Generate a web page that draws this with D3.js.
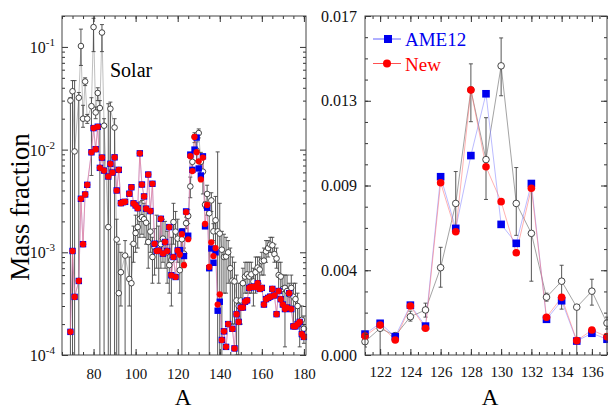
<!DOCTYPE html>
<html>
<head>
<meta charset="utf-8">
<script src="https://cdn.jsdelivr.net/npm/d3@7"></script>
<style>
    body { margin: 0; background: #fff; }
    text { font-family: "Liberation Serif", "Times New Roman", serif; }
</style>
</head>
<body>
<svg id="chart" width="608" height="410"></svg>
<script>
// mass numbers of the calculated abundances (AME12 and New)
var massA = [
    69, 70, 71, 73, 74, 75, 76, 77, 79, 80,
    81, 82, 83, 84, 85, 87, 88, 89, 90, 91,
    92, 93, 94, 95, 97, 98, 99, 100, 101, 102,
    103, 104, 105, 106, 107, 108, 109, 110, 111, 112,
    113, 114, 115, 116, 117, 118, 119, 120, 121, 122,
    123, 124, 125, 126, 127, 128, 129, 130, 131, 132,
    133, 134, 135, 136, 137, 138, 139, 140, 141, 142,
    143, 144, 146, 147, 148, 149, 150, 151, 152, 153,
    154, 155, 156, 157, 158, 159, 160, 161, 162, 163,
    164, 165, 166, 167, 168, 169, 170, 171, 172, 173,
    174, 175, 176, 177, 178, 179, 180
];

var newVals = [
    0.000168, 0.00103, 0.000368, 0.000526, 0.00332, 0.0012, 0.00366, 0.00454, 0.00942, 0.0162,
    0.0101, 0.0167, 0.00664, 0.00836, 0.00625, 0.00547, 0.00727, 0.00598, 0.00841, 0.0040,
    0.00635, 0.00301, 0.00308, 0.0031, 0.00372, 0.0043, 0.0030, 0.00286, 0.00269, 0.0092,
    0.00457, 0.0035, 0.00266, 0.00572, 0.00252, 0.00465, 0.00121, 0.00103, 0.00104, 0.00212,
    0.00097, 0.00126, 0.00103, 0.00176, 0.000598, 0.0009, 0.000575, 0.00104, 0.00095, 0.0015,
    0.00075, 0.00246, 0.00134, 0.00864, 0.00618, 0.01329, 0.00944, 0.00769, 0.00513, 0.00836,
    0.00189, 0.00289, 0.00072, 0.00125, 0.00092, 0.0011, 0.00031, 0.00039, 0.00014, 0.00017,
    0.00012, 0.0002, 0.00018, 0.000116, 0.00025, 0.00021, 0.00029, 0.00029, 0.00033, 0.00034,
    0.00045, 0.00046, 0.00046, 0.00046, 0.0005, 0.00044, 0.00045, 0.00031, 0.00035, 0.00036,
    0.00037, 0.00044, 0.00038, 0.00025, 0.00042, 0.00035, 0.00031, 0.00028, 0.00029, 0.0004,
    0.00028, 0.00019, 0.00019, 0.0002, 0.00021, 0.00016, 0.00015
];

var ame12Vals = [
    0.000168, 0.00103, 0.000368, 0.000526, 0.00332, 0.0012, 0.00366, 0.00454, 0.00942, 0.0162,
    0.0101, 0.0167, 0.00664, 0.00836, 0.00625, 0.00547, 0.00727, 0.00598, 0.00841, 0.0040,
    0.00635, 0.00301, 0.00308, 0.0031, 0.00372, 0.0043, 0.0030, 0.00286, 0.00269, 0.0092,
    0.00457, 0.0035, 0.00266, 0.00572, 0.00252, 0.00465, 0.00121, 0.00103, 0.00104, 0.00212,
    0.00097, 0.00126, 0.00103, 0.00176, 0.000598, 0.0009, 0.000575, 0.00104, 0.00105, 0.00159,
    0.00092, 0.0025, 0.00145, 0.00894, 0.00635, 0.0100, 0.0131, 0.00655, 0.0056, 0.0086,
    0.00179, 0.00272, 0.0007, 0.00109, 0.00079, 0.0010, 0.00027, 0.00033, 0.00014, 0.00017,
    0.00012, 0.0002, 0.00018, 0.000116, 0.00025, 0.00021, 0.00029, 0.00029, 0.00033, 0.00034,
    0.00045, 0.00046, 0.00046, 0.00046, 0.0005, 0.00044, 0.00045, 0.00031, 0.00035, 0.00036,
    0.00037, 0.00044, 0.00038, 0.00025, 0.00042, 0.00035, 0.00031, 0.00028, 0.00029, 0.0004,
    0.00028, 0.00019, 0.00019, 0.0002, 0.00021, 0.00016, 0.00015
];

// solar abundances with error bar bounds (0 = down to the axis)
var solarA = [
    69, 70, 71, 73, 74, 75, 76, 77, 79, 80,
    81, 82, 83, 84, 85, 87, 88, 90, 91, 92,
    93, 95, 97, 98, 99, 100, 101, 102, 103, 104,
    105, 106, 107, 108, 109, 110, 111, 112, 113, 114,
    115, 116, 117, 118, 119, 120, 121, 122, 123, 124,
    125, 126, 127, 128, 129, 130, 131, 132, 133, 134,
    135, 136, 137, 138, 139, 140, 141, 142, 143, 144,
    145, 146, 147, 148, 149, 150, 151, 152, 153, 154,
    155, 156, 157, 158, 159, 160, 161, 162, 163, 164,
    165, 166, 167, 168, 169, 170, 171, 172, 173, 174,
    175, 176, 177, 178, 179, 180
];

var solarVals = [
    0.030, 0.037, 0.0096, 0.032, 0.102, 0.020, 0.046, 0.020, 0.0265, 0.156,
    0.023, 0.0356, 0.0254, 0.138, 0.0171, 0.00176, 0.025, 0.0164, 0.00133, 0.0004,
    0.00064, 0.00093, 0.00055, 0.0005, 0.00121, 0.00154, 0.00176, 0.00212, 0.0022, 0.0021,
    0.00194, 0.00126, 0.00159, 0.0009, 0.00112, 0.00121, 0.00112, 0.0012, 0.00136, 0.00126,
    0.001, 0.00075, 0.00084, 0.00197, 0.00159, 0.00136, 0.00067, 0.00134, 0.00097, 0.00192,
    0.00226, 0.00438, 0.0076, 0.0133, 0.0098, 0.0145, 0.0076, 0.0061, 0.0029, 0.0037,
    0.0024, 0.0032, 0.0016, 0.00205, 0.0016, 0.00152, 0.00106, 0.0009, 0.00091, 0.001,
    0.0007, 0.00053, 0.00052, 0.00034, 0.0003, 0.00034, 0.0005, 0.00058, 0.00061, 0.00058,
    0.00061, 0.00052, 0.00064, 0.00071, 0.00068, 0.00082, 0.00083, 0.00102, 0.0011, 0.00119,
    0.00117, 0.00096, 0.00087, 0.0006, 0.00058, 0.00044, 0.00045, 0.00042, 0.00039, 0.00045,
    0.00037, 0.00035, 0.0003, 0.00021, 0.00022, 0.00018
];

var solarLo = [
    0, 0, 0, 0, 0.066, 0.0165, 0.042, 0.018, 0.0056, 0.09,
    0.02, 0.03, 0, 0.09, 0, 0, 0, 0, 0, 0,
    0.0003, 0, 0.0003, 0, 0.0008, 0.001, 0.0011, 0.0014, 0.0015, 0.0014,
    0.0012, 0.0007, 0.001, 0.0005, 0.0006, 0.0007, 0.0005, 0.0007, 0.0008, 0.0007,
    0.0005, 0.0004, 0.0003, 0.0012, 0.0009, 0.0008, 0.0004, 0, 0.0008, 0.0017,
    0.0019, 0.0034, 0.0063, 0.0117, 0.0078, 0.013, 0.006, 0.0037, 0.0027, 0.0023,
    0, 0.0025, 0.0013, 0.0011, 0, 0, 0, 0.0004, 0.0004, 0.0005,
    0.0002, 0.0002, 0.0002, 0.0001, 0.0001, 0.0002, 0.0003, 0.0004, 0.0004, 0.0004,
    0.0004, 0.0003, 0.0004, 0.0005, 0.0005, 0.0006, 0.0006, 0.0008, 0.0009, 0.001,
    0.001, 0.0008, 0.0007, 0.0004, 0.0004, 0.0003, 0.00012, 0.0003, 0.0003, 0.0003,
    0.0002, 0.0002, 0.0002, 0.00012, 0.00015, 0.00013
];

var solarHi = [
    0.032, 0.047, 0.047, 0.036, 0.149, 0.027, 0.05, 0.022, 0.032, 0.19,
    0.026, 0.04, 0.03, 0.165, 0.02, 0.028, 0.029, 0.02, 0.0021, 0.0012,
    0.001, 0.0013, 0.0009, 0.0012, 0.0018, 0.0023, 0.0027, 0.0031, 0.0032, 0.003,
    0.0028, 0.0019, 0.0024, 0.0014, 0.0017, 0.0023, 0.0018, 0.0021, 0.0021, 0.002,
    0.0016, 0.0012, 0.0014, 0.003, 0.0025, 0.0021, 0.0009, 0.0017, 0.0011, 0.0022,
    0.0026, 0.0054, 0.0092, 0.0146, 0.0119, 0.0159, 0.0094, 0.0086, 0.0031, 0.0045,
    0.0025, 0.0038, 0.0019, 0.0035, 0.0095, 0.003, 0.0016, 0.0015, 0.0014, 0.0013,
    0.0011, 0.0009, 0.0008, 0.0006, 0.0005, 0.0005, 0.0007, 0.0008, 0.0008, 0.0008,
    0.0008, 0.0007, 0.0009, 0.0009, 0.0009, 0.001, 0.0011, 0.0013, 0.0013, 0.0014,
    0.0014, 0.0012, 0.0011, 0.0008, 0.0008, 0.0006, 0.0006, 0.0006, 0.0005, 0.0006,
    0.0005, 0.0005, 0.0004, 0.0003, 0.0003, 0.00024
];

// tick values and labels
var leftXTicks = [80, 100, 120, 140, 160, 180];
var leftYTicks = [1e-4, 1e-3, 1e-2, 1e-1];
var leftYExp = ["-4", "-3", "-2", "-1"];
var rightXTicks = [122, 124, 126, 128, 130, 132, 134, 136];
var rightYTicks = [0, 0.00425, 0.0085, 0.01275, 0.017];
var rightYLabels = ["0.000", "0.004", "0.009", "0.013", "0.017"];
var legendNames = ["AME12", "New"];

var BLUE = "#0000ee", RED = "#ff0000";
var SERIF = "'Liberation Serif', 'Times New Roman', serif";

var svg = d3.select("#chart");

var newPts = massA.map(function (a, i) { return { a: a, v: newVals[i] }; });
var amePts = massA.map(function (a, i) { return { a: a, v: ame12Vals[i] }; });
var solarPts = solarA.map(function (a, i) {
    return { a: a, v: solarVals[i], lo: solarLo[i], hi: solarHi[i] };
});

// scales
var leftX = d3.scaleLinear().domain([65, 181]).range([62, 306]);
var leftY = d3.scaleLog().domain([1e-4, 0.2]).range([355, 16]);
var rightX = d3.scaleLinear().domain([121, 137]).range([365, 607]);
var rightY = d3.scaleLinear().domain([0, 0.017]).range([355, 16]);

var defs = svg.append("defs");
defs.append("clipPath").attr("id", "clipL").append("rect")
    .attr("x", 62).attr("y", 16).attr("width", 244).attr("height", 339);
defs.append("clipPath").attr("id", "clipR").append("rect")
    .attr("x", 365).attr("y", 16).attr("width", 243).attr("height", 339);

function drawPanel(x, y, clipId, opt) {
    var g = svg.append("g");
    var inner = g.append("g").attr("clip-path", "url(#" + clipId + ")");
    var yMin = y.domain()[0];

    var line = d3.line()
        .x(function (d) { return x(d.a); })
        .y(function (d) { return y(d.v); });

    var solar = solarPts.filter(opt.keep);
    var ame = amePts.filter(opt.keep);
    var nw = newPts.filter(opt.keep);

    // solar line + error bars
    inner.append("path").datum(solar)
        .attr("fill", "none").attr("stroke", opt.solarLine).attr("stroke-width", 0.9)
        .attr("d", line);

    var bars = inner.selectAll(".err").data(solar).enter().append("g");
    bars.append("line")
        .attr("x1", function (d) { return x(d.a); })
        .attr("x2", function (d) { return x(d.a); })
        .attr("y1", function (d) { return y(Math.max(d.lo, yMin * 0.5)); })
        .attr("y2", function (d) { return y(d.hi); })
        .attr("stroke", "#444").attr("stroke-width", 0.9);
    bars.append("line")
        .attr("x1", function (d) { return x(d.a) - 2; })
        .attr("x2", function (d) { return x(d.a) + 2; })
        .attr("y1", function (d) { return y(d.hi); })
        .attr("y2", function (d) { return y(d.hi); })
        .attr("stroke", "#444").attr("stroke-width", 0.9);
    bars.filter(function (d) { return d.lo > 0; }).append("line")
        .attr("x1", function (d) { return x(d.a) - 2; })
        .attr("x2", function (d) { return x(d.a) + 2; })
        .attr("y1", function (d) { return y(d.lo); })
        .attr("y2", function (d) { return y(d.lo); })
        .attr("stroke", "#444").attr("stroke-width", 0.9);

    // AME12 and New lines
    g.append("path").datum(ame)
        .attr("fill", "none").attr("stroke", "#8080ff").attr("stroke-opacity", 0.6)
        .attr("stroke-width", 0.9).attr("d", line);
    g.append("path").datum(nw)
        .attr("fill", "none").attr("stroke", "#ff7070").attr("stroke-opacity", 0.6)
        .attr("stroke-width", 0.9).attr("d", line);

    // solar markers
    g.selectAll(".sol").data(solar).enter().append("circle")
        .attr("cx", function (d) { return x(d.a); })
        .attr("cy", function (d) { return y(d.v); })
        .attr("r", opt.solarR)
        .attr("fill", "#fff").attr("stroke", "#333").attr("stroke-width", 0.9);

    // AME12 squares
    var s = opt.sq;
    g.selectAll(".ame").data(ame).enter().append("rect")
        .attr("x", function (d) { return x(d.a) - s / 2; })
        .attr("y", function (d) { return y(d.v) - s / 2; })
        .attr("width", s).attr("height", s)
        .attr("fill", BLUE);

    // New circles
    g.selectAll(".new").data(nw).enter().append("circle")
        .attr("cx", function (d) { return x(d.a); })
        .attr("cy", function (d) { return y(d.v); })
        .attr("r", opt.newR)
        .attr("fill", RED);

    return g;
}

drawPanel(leftX, leftY, "clipL", {
    keep: function () { return true; },
    solarLine: "#b8b8b8", solarR: 2.8, sq: 6.4, newR: 3.1
});
drawPanel(rightX, rightY, "clipR", {
    keep: function (d) { return d.a >= 121 && d.a <= 137; },
    solarLine: "#999", solarR: 3.3, sq: 7.6, newR: 3.8
});

// frames and ticks
function tickAxis(axis, tx, ty) {
    var a = svg.append("g").attr("transform", "translate(" + tx + "," + ty + ")")
        .style("color", "#333")
        .call(axis)
        .attr("font-family", SERIF)
        .attr("font-size", 15);
    a.select(".domain").remove();
    a.selectAll("text").attr("fill", "#111");
    return a;
}

var leftXMinor = d3.range(65, 181, 5);
tickAxis(d3.axisBottom(leftX).tickValues(leftXTicks).tickSize(-6).tickPadding(13).tickFormat(d3.format("d")), 0, 355);
tickAxis(d3.axisBottom(leftX).tickValues(leftXMinor).tickSize(-3).tickFormat(""), 0, 355);
tickAxis(d3.axisTop(leftX).tickValues(leftXTicks).tickSize(-6).tickFormat(""), 0, 16);
tickAxis(d3.axisTop(leftX).tickValues(leftXMinor).tickSize(-3).tickFormat(""), 0, 16);

var leftYMinor = [];
[1e-4, 1e-3, 1e-2, 1e-1].forEach(function (p) {
    for (var k = 2; k <= 9; k++) {
        if (p * k <= 0.2) leftYMinor.push(p * k);
    }
});
tickAxis(d3.axisLeft(leftY).tickValues(leftYTicks).tickSize(-6).tickFormat(""), 62, 0);
tickAxis(d3.axisLeft(leftY).tickValues(leftYMinor).tickSize(-3).tickFormat(""), 62, 0);
tickAxis(d3.axisRight(leftY).tickValues(leftYTicks).tickSize(-6).tickFormat(""), 306, 0);
tickAxis(d3.axisRight(leftY).tickValues(leftYMinor).tickSize(-3).tickFormat(""), 306, 0);

var yLab = svg.selectAll(".ylab").data(leftYTicks).enter().append("text")
    .attr("x", 55)
    .attr("y", function (d) { return leftY(d) + 6; })
    .attr("text-anchor", "end")
    .attr("font-size", 16)
    .attr("fill", "#111");
yLab.append("tspan").text("10");
yLab.append("tspan").attr("dy", -7).attr("font-size", 11)
    .text(function (d, i) { return leftYExp[i]; });

var rightXMinor = d3.range(121, 137.01, 0.5);
tickAxis(d3.axisBottom(rightX).tickValues(rightXTicks).tickSize(-6).tickPadding(11).tickFormat(d3.format("d")), 0, 355);
tickAxis(d3.axisBottom(rightX).tickValues(rightXMinor).tickSize(-3).tickFormat(""), 0, 355);
tickAxis(d3.axisTop(rightX).tickValues(rightXTicks).tickSize(-6).tickFormat(""), 0, 16);
tickAxis(d3.axisTop(rightX).tickValues(rightXMinor).tickSize(-3).tickFormat(""), 0, 16);

var rightYMinor = d3.range(0, 0.01701, 0.017 / 16);
tickAxis(d3.axisLeft(rightY).tickValues(rightYTicks).tickSize(-6).tickPadding(8)
    .tickFormat(function (d, i) { return rightYLabels[i]; }), 365, 0)
    .attr("font-size", 16);
tickAxis(d3.axisLeft(rightY).tickValues(rightYMinor).tickSize(-3).tickFormat(""), 365, 0);
tickAxis(d3.axisRight(rightY).tickValues(rightYTicks).tickSize(-6).tickFormat(""), 607, 0);
tickAxis(d3.axisRight(rightY).tickValues(rightYMinor).tickSize(-3).tickFormat(""), 607, 0);

svg.append("rect").attr("x", 62).attr("y", 16).attr("width", 244).attr("height", 339)
    .attr("fill", "none").attr("stroke", "#444").attr("stroke-width", 1);
svg.append("rect").attr("x", 365).attr("y", 16).attr("width", 242).attr("height", 339)
    .attr("fill", "none").attr("stroke", "#444").attr("stroke-width", 1);

// titles
svg.append("text")
    .attr("transform", "translate(29,207) rotate(-90)")
    .attr("text-anchor", "middle")
    .attr("font-size", 27)
    .text("Mass fraction");
svg.append("text").attr("x", 183).attr("y", 405).attr("text-anchor", "middle")
    .attr("font-size", 23).text("A");
svg.append("text").attr("x", 490).attr("y", 405).attr("text-anchor", "middle")
    .attr("font-size", 23).text("A");
svg.append("text").attr("x", 110).attr("y", 77).attr("font-size", 20).text("Solar");

// legend
var legend = svg.selectAll(".leg").data(legendNames).enter().append("g")
    .attr("transform", function (d, i) { return "translate(0," + (39 + i * 24.5) + ")"; });
legend.append("line").attr("x1", 373).attr("x2", 401).attr("y1", 0).attr("y2", 0)
    .attr("stroke", function (d, i) { return i === 0 ? "#6060ff" : "#ff5050"; })
    .attr("stroke-width", 1);
legend.filter(function (d, i) { return i === 0; }).append("rect")
    .attr("x", 384).attr("y", -4).attr("width", 8).attr("height", 8).attr("fill", BLUE);
legend.filter(function (d, i) { return i === 1; }).append("circle")
    .attr("cx", 387).attr("cy", 0).attr("r", 4).attr("fill", RED);
legend.append("text")
    .attr("x", 405).attr("y", 7)
    .attr("font-size", 19)
    .attr("fill", function (d, i) { return i === 0 ? BLUE : RED; })
    .text(function (d) { return d; });
</script>
</body>
</html>
